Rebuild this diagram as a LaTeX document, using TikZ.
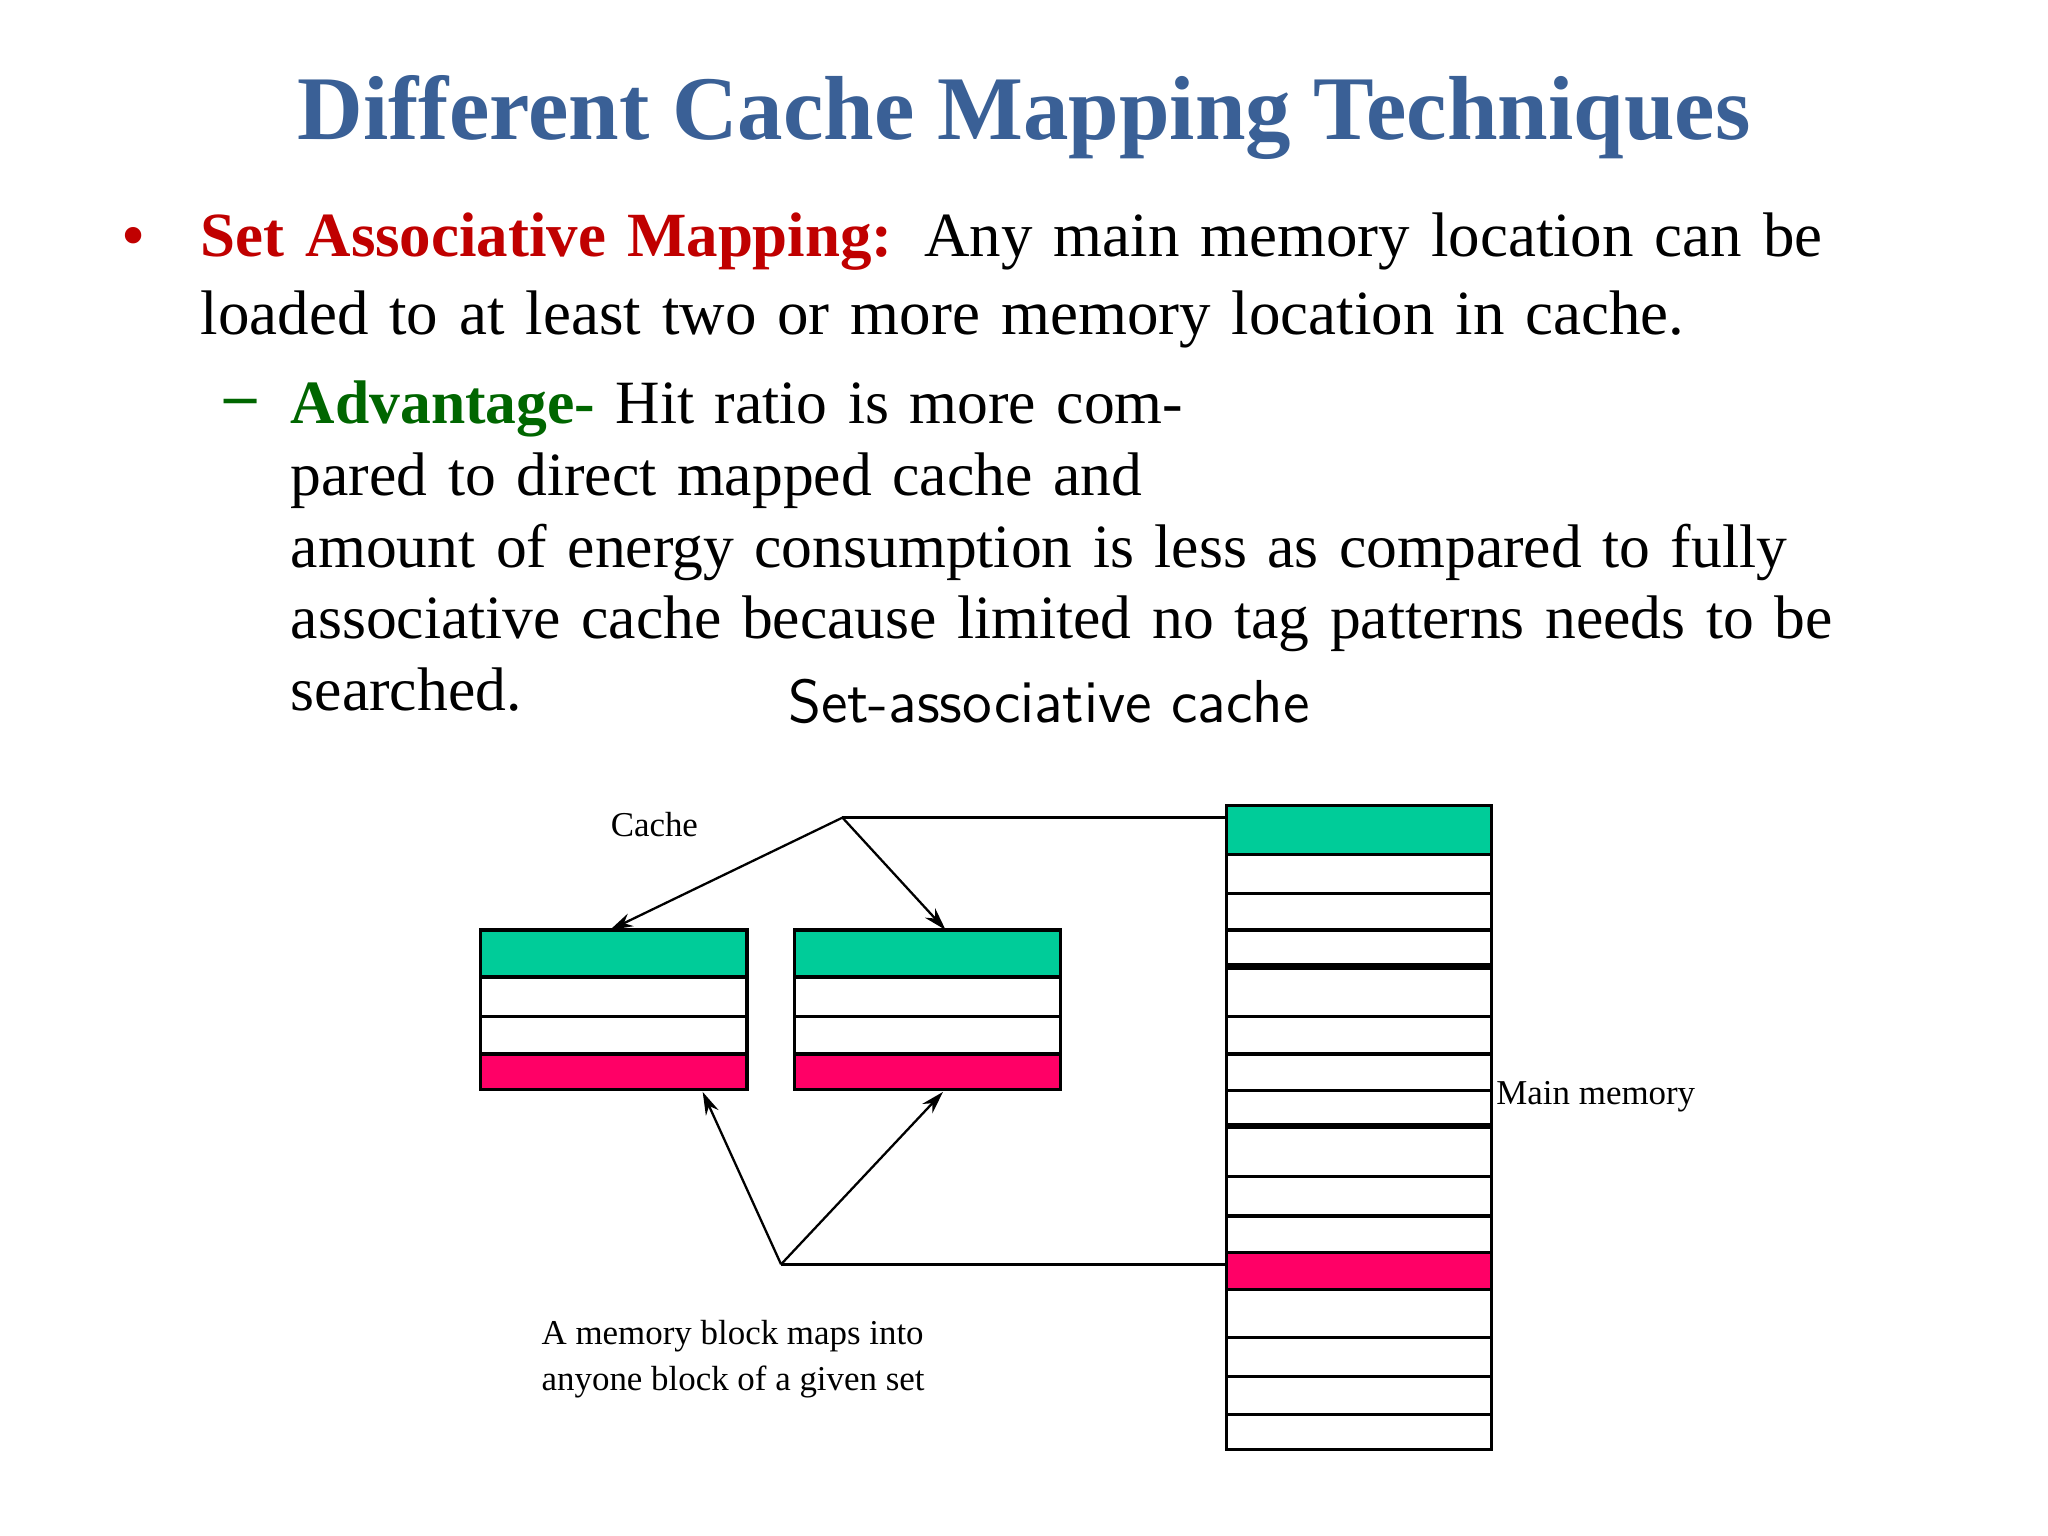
\documentclass[tikz,border=0pt]{standalone}
\usepackage{fontspec}
\setmainfont{Liberation Serif}
\usetikzlibrary{arrows.meta}
\definecolor{ttl}{RGB}{58,96,150}
\definecolor{rd}{RGB}{192,0,0}
\definecolor{gr}{RGB}{0,102,0}
\definecolor{teal}{RGB}{0,204,153}
\definecolor{pk}{RGB}{255,0,102}
\tikzset{cell/.style={draw=black,line width=0.7pt},
 arr/.style={-{Stealth[length=5pt,width=3pt]},line width=0.5pt},
 ln/.style={line width=0.6pt},
 small/.style={font=\fontsize{7.6}{10}\selectfont,align=left}}
\begin{document}
\begin{tikzpicture}[x=0.01cm,y=-0.01cm]
\useasboundingbox[fill=white] (0,0) rectangle (1568,1176);
\node[text=ttl,font=\fontsize{19.8}{22}\selectfont\bfseries] (title) at (784,90) {Different Cache Mapping Techniques};
\node[font=\fontsize{15}{17}\selectfont,text=rd] (b1) at (102,186) {•};
\node[anchor=north west,inner sep=0pt,text width=13.2cm,font=\fontsize{13.7}{17.1}\selectfont] (p1) at (153,162)
 {\textcolor{rd}{\bfseries Set Associative Mapping:} Any main memory location can be\linebreak loaded to at least two or more memory location in cache.};
\node[font=\fontsize{14}{17}\selectfont\bfseries,text=gr] (b2) at (184,312) {--};
\node[anchor=north west,inner sep=0pt,text width=12.51cm,font=\fontsize{13.4}{15.6}\selectfont] (p2) at (222,291)
 {\textcolor{gr}{\bfseries Advantage-} Hit ratio is more compared to direct mapped cache and\linebreak amount of energy consumption is less as compared to fully\linebreak associative cache because limited no tag patterns needs to be\linebreak searched.};
\node[font=\sffamily\fontsize{13.2}{14}\selectfont] (st) at (803,537) {Set-associative cache};
% cache sets
\foreach \x/\n in {368/a,608/b}{
 \draw[cell,fill=teal] (\x,712) rectangle (\x+204,748);
 \draw[cell] (\x,748) rectangle (\x+204,778);
 \draw[cell] (\x,778) rectangle (\x+204,807);
 \draw[cell,fill=pk] (\x,807) rectangle (\x+204,834);
}
% main memory
\draw[cell,fill=teal] (939,617) rectangle (1142,654);
\foreach \a/\b in {654/684,684/712,712/740,740/778,778/807,807/835,835/862,862/901,901/931,931/959,987/1024,1024/1054,1054/1083,1083/1110}
 \draw[cell] (939,\a) rectangle (1142,\b);
\draw[cell,fill=pk] (939,959) rectangle (1142,987);
\draw[line width=1.4pt] (939,740)--(1142,740) (939,862)--(1142,862);
\coordinate (top) at (645,626);
\coordinate (bot) at (598,968);
\draw[ln] (top)--(939,626);
\draw[arr] (top)--(467,712);
\draw[arr] (top)--(724,712);
\draw[ln] (bot)--(939,968);
\draw[arr] (bot)--(538,836);
\draw[arr] (bot)--(722,836);
\node[small] (cl) at (501,631) {Cache};
\node[small,anchor=west,inner sep=0pt] (mm) at (1145,840) {Main memory};
\node[small,anchor=north west,inner sep=0pt] (lbl) at (414,1010) {A memory block maps into\\anyone block of a given set};
\end{tikzpicture}
\end{document}
